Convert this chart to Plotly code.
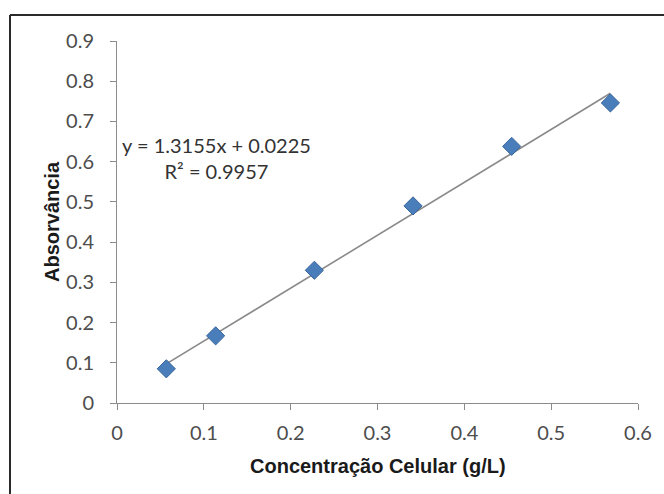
import plotly.graph_objects as go

# Calibration data: cell concentration vs absorbance
concentracao = [0.0568, 0.1136, 0.2273, 0.3409, 0.4545, 0.5682]
absorvancia = [0.085, 0.167, 0.330, 0.490, 0.638, 0.746]

# Linear trendline reported on the chart
slope = 1.3155
intercept = 0.0225
r2 = 0.9957

x_ticks = [0, 0.1, 0.2, 0.3, 0.4, 0.5, 0.6]
y_ticks = [0, 0.1, 0.2, 0.3, 0.4, 0.5, 0.6, 0.7, 0.8, 0.9]

W, H = 664, 494
L, R, T, B = 117, 26, 41, 91
pw, ph = W - L - R, H - T - B

tick_font = dict(family="Lato, sans-serif", size=20, color="#4d4d4d")
title_font = dict(family="Liberation Sans, Arial, sans-serif", size=20, color="#1a1a1a")
axis_gray = "#8c8c8c"

trend_x = [concentracao[0], concentracao[-1]]
trend_y = [slope * v + intercept for v in trend_x]

fig = go.Figure()
fig.add_trace(go.Scatter(
    x=trend_x, y=trend_y, mode="lines",
    line=dict(color="#8a8a8a", width=1.6),
    hoverinfo="skip", showlegend=False,
))
fig.add_trace(go.Scatter(
    x=concentracao, y=absorvancia, mode="markers",
    marker=dict(symbol="diamond", size=14, color="#4a7ebb",
                line=dict(color="#3b679c", width=1)),
    showlegend=False,
))

eq_text = f"y = {slope:.4f}x + {intercept:.4f}<br>R² = {r2:.4f}"
fig.add_annotation(
    x=0.1147, y=0.609, xref="x", yref="y", text=eq_text,
    showarrow=False, align="center", xanchor="center", yanchor="middle",
    font=dict(family="Lato, sans-serif", size=20, color="#333333"),
)

def px_to_paper_x(px):
    return (px - L) / pw

def px_to_paper_y(py):
    return (H - B - py) / ph

fig.add_annotation(
    x=0.5, y=px_to_paper_y(466), xref="paper", yref="paper",
    text="<b>Concentração Celular (g/L)</b>", showarrow=False,
    xanchor="center", yanchor="middle", font=title_font,
)
fig.add_annotation(
    x=px_to_paper_x(52), y=0.5, xref="paper", yref="paper",
    text="<b>Absorvância</b>", showarrow=False, textangle=-90,
    xanchor="center", yanchor="middle", font=title_font,
)

# Outer frame: left and top edges
fig.add_shape(type="line", xref="paper", yref="paper",
              x0=px_to_paper_x(10), x1=px_to_paper_x(700),
              y0=px_to_paper_y(15), y1=px_to_paper_y(15),
              line=dict(color="#2a2a2a", width=2))
fig.add_shape(type="line", xref="paper", yref="paper",
              x0=px_to_paper_x(10), x1=px_to_paper_x(10),
              y0=px_to_paper_y(15), y1=px_to_paper_y(520),
              line=dict(color="#2a2a2a", width=2))

fig.update_xaxes(
    range=[0, 0.6], tickvals=x_ticks, ticktext=[f"{v:g}" for v in x_ticks],
    showline=True, linecolor=axis_gray, linewidth=1,
    ticks="outside", ticklen=6, tickcolor=axis_gray,
    showgrid=False, zeroline=False, tickfont=tick_font,
    ticklabelstandoff=6,
)
fig.update_yaxes(
    range=[0, 0.9], tickvals=y_ticks, ticktext=[f"{v:g}" for v in y_ticks],
    showline=True, linecolor=axis_gray, linewidth=1,
    ticks="outside", ticklen=6, tickcolor=axis_gray,
    showgrid=False, zeroline=False, tickfont=tick_font,
    ticklabelstandoff=12,
)
fig.update_layout(
    width=W, height=H,
    margin=dict(l=L, r=R, t=T, b=B),
    paper_bgcolor="white", plot_bgcolor="white",
)

fig.write_html("out.html")
